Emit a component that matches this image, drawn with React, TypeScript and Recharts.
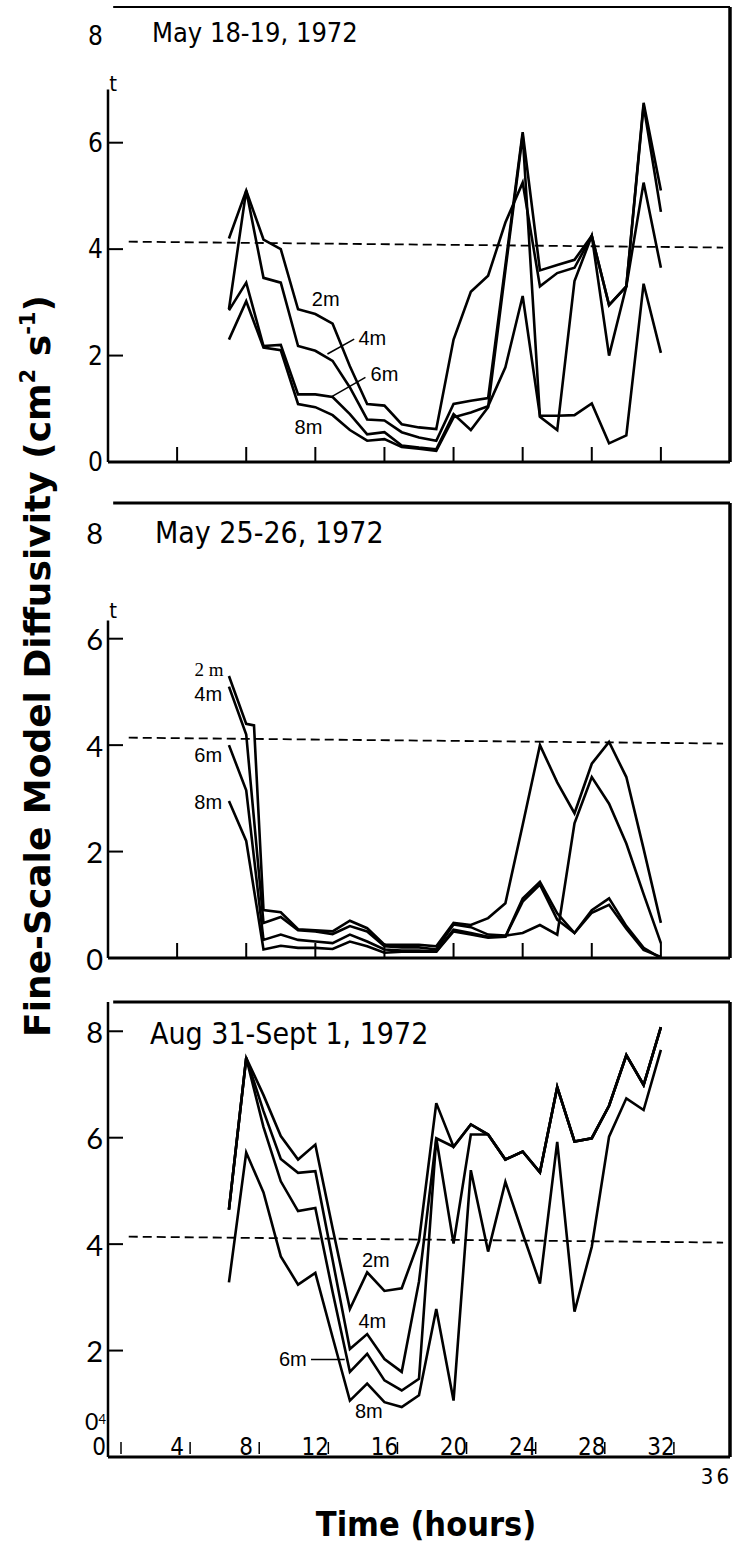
import React from "react";
import { LineChart, Line, XAxis, YAxis, ReferenceLine, ReferenceDot } from "recharts";

// ---- May 18-19, 1972 ----
const hoursMay18 = [7, 8, 9, 10, 11, 12, 13, 14, 15, 16, 17, 18, 19, 20, 21, 22, 23, 24, 25, 26, 27, 28, 29, 30, 31, 32];
const may18At2m = [4.2, 5.1, 4.18, 4.0, 2.87, 2.78, 2.6, 1.8, 1.09, 1.06, 0.71, 0.65, 0.62, 2.3, 3.2, 3.5, 4.5, 5.25, 3.3, 3.55, 3.65, 4.25, 2.95, 3.3, 5.25, 3.65];
const may18At4m = [2.87, 5.1, 3.46, 3.37, 2.18, 2.09, 1.9, 1.4, 0.8, 0.78, 0.56, 0.46, 0.4, 1.09, 1.15, 1.2, 3.7, 6.2, 3.6, 3.7, 3.8, 4.25, 2.95, 3.3, 6.75, 5.1];
const may18At6m = [2.85, 3.37, 2.18, 2.2, 1.27, 1.27, 1.22, 0.9, 0.52, 0.56, 0.31, 0.27, 0.24, 0.9, 0.6, 1.03, 3.6, 6.15, 0.85, 0.6, 3.4, 4.25, 2.0, 3.3, 6.7, 4.7];
const may18At8m = [2.3, 3.02, 2.15, 2.1, 1.09, 1.03, 0.88, 0.6, 0.4, 0.43, 0.28, 0.25, 0.21, 0.84, 0.93, 1.05, 1.78, 3.12, 0.87, 0.87, 0.88, 1.1, 0.35, 0.5, 3.35, 2.05];

// ---- May 25-26, 1972 ----
const hoursMay25 = [7, 8, 8.45, 9, 10, 11, 12, 13, 14, 15, 16, 17, 18, 19, 20, 21, 22, 23, 24, 25, 26, 27, 28, 29, 30, 31, 32];
const may25At2m = [5.3, 4.4, 4.37, 0.9, 0.86, 0.54, 0.52, 0.5, 0.7, 0.56, 0.25, 0.25, 0.25, 0.22, 0.66, 0.62, 0.75, 1.03, 2.5, 4.0, 3.3, 2.72, 3.65, 4.06, 3.4, 2.05, 0.66];
const may25At4m = [5.1, 4.2, null, 0.66, 0.77, 0.52, 0.5, 0.45, 0.6, 0.5, 0.22, 0.2, 0.2, 0.16, 0.63, 0.58, 0.44, 0.42, 0.47, 0.62, 0.44, 2.53, 3.4, 2.9, 2.15, 1.2, 0.28];
const may25At6m = [4.0, 3.15, null, 0.34, 0.44, 0.34, 0.31, 0.28, 0.44, 0.31, 0.16, 0.14, 0.14, 0.12, 0.53, 0.47, 0.4, 0.4, 1.12, 1.43, 0.84, 0.47, 0.9, 1.12, 0.6, 0.19, 0];
const may25At8m = [2.95, 2.2, null, 0.16, 0.23, 0.19, 0.19, 0.17, 0.31, 0.22, 0.1, 0.12, 0.12, 0.12, 0.5, 0.44, 0.38, 0.4, 1.06, 1.38, 0.72, 0.47, 0.85, 1.0, 0.55, 0.15, 0.02];

// ---- Aug 31-Sept 1, 1972 ----
const hoursAug31 = [7, 8, 9, 10, 11, 12, 13, 14, 15, 16, 17, 18, 19, 20, 21, 22, 23, 24, 25, 26, 27, 28, 29, 30, 31, 32];
const aug31At2m = [4.65, 7.5, 6.8, 6.03, 5.59, 5.87, 4.3, 2.78, 3.47, 3.12, 3.17, 4.06, 6.65, 5.83, 6.25, 6.06, 5.59, 5.74, 5.35, 6.95, 5.93, 5.99, 6.6, 7.55, 6.99, 8.08];
const aug31At4m = [4.65, 7.5, 6.5, 5.6, 5.34, 5.37, 3.7, 2.03, 2.31, 1.84, 1.6, 3.3, 5.99, 5.83, 6.25, 6.06, 5.59, 5.74, 5.35, 6.95, 5.93, 5.99, 6.6, 7.55, 6.99, 8.08];
const aug31At6m = [4.65, 7.5, 6.2, 5.18, 4.62, 4.68, 3.1, 1.6, 1.94, 1.44, 1.25, 1.47, 5.99, 4.01, 6.06, 6.06, 5.59, 5.74, 5.35, 6.95, 5.93, 5.99, 6.6, 7.55, 6.99, 8.08];
const aug31At8m = [3.28, 5.72, 4.97, 3.77, 3.24, 3.46, 2.25, 1.06, 1.38, 1.03, 0.94, 1.16, 2.78, 1.06, 5.39, 3.86, 5.17, 4.2, 3.26, 5.92, 2.73, 3.95, 6.02, 6.74, 6.52, 7.65];

// axes
const yTicks = [0, 2, 4, 6, 8];
const xTicks = [4, 8, 12, 16, 20, 24, 28, 32];
const xTicksLabelled = [0, 4, 8, 12, 16, 20, 24, 28, 32, 36];
const threshold = [4.14, 4.03]; // dashed line, left and right end

// annotations (data coordinates)
const may18Labels = [
  { x: 12.6, y: 3.06, text: "2m" },
  { x: 15.3, y: 2.34, text: "4m" },
  { x: 16.0, y: 1.66, text: "6m" },
  { x: 11.6, y: 0.66, text: "8m" },
];
const may18Pointers = [
  [12.7, 2.03, 14.25, 2.31],
  [12.9, 1.22, 14.9, 1.59],
];
const may25Labels = [
  { x: 5.85, y: 5.43, text: "2 m", serif: true },
  { x: 5.8, y: 4.97, text: "4m" },
  { x: 5.8, y: 3.81, text: "6m" },
  { x: 5.8, y: 2.93, text: "8m" },
];
const aug31Labels = [
  { x: 15.5, y: 3.7, text: "2m" },
  { x: 15.3, y: 2.56, text: "4m" },
  { x: 10.7, y: 1.84, text: "6m" },
  { x: 15.1, y: 0.87, text: "8m" },
];
const aug31Pointers = [[11.75, 1.83, 13.7, 1.83]];

const NARROW = "'Liberation Sans Narrow', 'DejaVu Sans Condensed', sans-serif";
const ROUND = "Lato, 'DejaVu Sans', sans-serif";
const PLAIN = "'Liberation Sans', Arial, sans-serif";
const Y_TOP = 8.55;
const X_END = 36;
const LINE_W = 2.6;

function buildRows(hours: number[], a: any[], b: any[], c: any[], d: any[]) {
  return hours.map((h, i) => ({ h, m2: a[i], m4: b[i], m6: c[i], m8: d[i] }));
}

const may18Rows = buildRows(hoursMay18, may18At2m, may18At4m, may18At6m, may18At8m);
const may25Rows = buildRows(hoursMay25, may25At2m, may25At4m, may25At6m, may25At8m);
const aug31Rows = buildRows(hoursAug31, aug31At2m, aug31At4m, aug31At6m, aug31At8m);

function makeYTick(marks: number[], font: string, size: number, raisedZero: boolean) {
  return (props: any) => {
    const { x, y, payload } = props;
    const v = payload.value;
    if (raisedZero && v === 0) {
      return (
        <text x={x - 2} y={y - 27} textAnchor="end" fontFamily={font} fontSize={size - 6}>
          0<tspan fontSize={13} dy={-6}>4</tspan>
        </text>
      );
    }
    return (
      <g>
        {marks.includes(v) && <line x1={x} y1={y} x2={x + 15} y2={y} stroke="#000" strokeWidth={2} />}
        <text x={x - 5} y={y} textAnchor="end" dominantBaseline="central" fontFamily={font} fontSize={size}>
          {v}
        </text>
      </g>
    );
  };
}

const TickUp = (props: any) => (
  <line x1={props.x} y1={props.y} x2={props.x} y2={props.y - 15} stroke="#000" strokeWidth={2} />
);

const TickLabelled = (props: any) => {
  const { x, y, payload } = props;
  const v = payload.value;
  if (v === 36) {
    return (
      <text x={x + 2} y={y + 27} textAnchor="end" fontFamily={NARROW} fontSize={22} letterSpacing={3}>
        36
      </text>
    );
  }
  const lx = v === 0 ? x - 9 : x;
  return (
    <g>
      <text x={lx} y={y - 2} textAnchor="middle" fontFamily={NARROW} fontSize={24}>
        {v}
      </text>
      <line x1={x + 13} y1={y - 3} x2={x + 13} y2={y - 15} stroke="#000" strokeWidth={1.5} />
    </g>
  );
};

interface PanelProps {
  rows: any[];
  top: number;
  labels: { x: number; y: number; text: string; serif?: boolean }[];
  pointers: number[][];
  leftAxisTop: number;
  tMark: number | null;
  bottom: boolean;
  yFont: string;
  ySize: number;
  frameWidth: number;
}

function Panel({ rows, top, labels, pointers, leftAxisTop, tMark, bottom, yFont, ySize, frameWidth }: PanelProps) {
  const yMarks = bottom ? [2, 4, 6, 8] : [2, 4, 6];
  const axisH = bottom ? 48 : 28;
  return (
    <div style={{ position: "absolute", left: 0, top }}>
      <LineChart width={745} height={462 + axisH} data={rows} margin={{ top: 7, right: 15, bottom: 0, left: 0 }}>
        <XAxis
          type="number"
          dataKey="h"
          domain={[0, X_END]}
          ticks={bottom ? xTicksLabelled : xTicks}
          height={axisH}
          allowDataOverflow
          interval={0}
          axisLine={{ stroke: "#000", strokeWidth: 3 }}
          tickLine={false}
          tickSize={0}
          tickMargin={0}
          tick={bottom ? <TickLabelled /> : <TickUp />}
        />
        <YAxis
          type="number"
          domain={[0, Y_TOP]}
          ticks={yTicks}
          width={108}
          allowDataOverflow
          interval={0}
          axisLine={false}
          tickLine={false}
          tickSize={0}
          tickMargin={0}
          tick={makeYTick(yMarks, yFont, ySize, bottom)}
        />
        {/* frame: top edge and right edge */}
        <ReferenceLine
          segment={[{ x: 0.3, y: Y_TOP }, { x: X_END, y: Y_TOP }]}
          stroke="#000"
          strokeWidth={frameWidth}
          ifOverflow="visible"
        />
        <ReferenceLine
          segment={[{ x: X_END, y: 0 }, { x: X_END, y: Y_TOP }]}
          stroke="#000"
          strokeWidth={3.5}
          ifOverflow="visible"
        />
        <ReferenceLine
          segment={[{ x: 0, y: 0 }, { x: 0, y: leftAxisTop }]}
          stroke="#000"
          strokeWidth={2.5}
          ifOverflow="visible"
        />
        <ReferenceLine
          segment={[{ x: 1.2, y: threshold[0] }, { x: 35.6, y: threshold[1] }]}
          stroke="#000"
          strokeWidth={1.8}
          strokeDasharray="9 5"
        />
        {pointers.map((p, i) => (
          <ReferenceLine
            key={"p" + i}
            segment={[{ x: p[0], y: p[1] }, { x: p[2], y: p[3] }]}
            stroke="#000"
            strokeWidth={1.5}
          />
        ))}
        {tMark !== null && (
          <ReferenceDot
            x={0.3}
            y={tMark}
            r={0}
            fill="none"
            stroke="none"
            label={{ value: "t", position: "center", fontSize: 22, fill: "#000", fontFamily: NARROW }}
          />
        )}
        {labels.map((l) => (
          <ReferenceDot
            key={l.text}
            x={l.x}
            y={l.y}
            r={0}
            fill="none"
            stroke="none"
            label={{
              value: l.text,
              position: "center",
              fontSize: l.serif ? 19 : 20,
              fill: "#000",
              fontFamily: l.serif ? "'Liberation Serif', 'DejaVu Serif', serif" : PLAIN,
            }}
          />
        ))}
        <Line type="linear" dataKey="m2" stroke="#000" strokeWidth={LINE_W} dot={false} connectNulls isAnimationActive={false} />
        <Line type="linear" dataKey="m4" stroke="#000" strokeWidth={LINE_W} dot={false} connectNulls isAnimationActive={false} />
        <Line type="linear" dataKey="m6" stroke="#000" strokeWidth={LINE_W} dot={false} connectNulls isAnimationActive={false} />
        <Line type="linear" dataKey="m8" stroke="#000" strokeWidth={LINE_W} dot={false} connectNulls isAnimationActive={false} />
      </LineChart>
    </div>
  );
}

export default function App() {
  return (
    <div style={{ position: "absolute", left: 0, top: 0, width: 745, height: 1545, background: "#fff" }}>
      <Panel
        rows={may18Rows}
        top={0}
        labels={may18Labels}
        pointers={may18Pointers}
        leftAxisTop={7.0}
        tMark={7.12}
        bottom={false}
        yFont={NARROW}
        ySize={26}
        frameWidth={2}
      />
      <Panel
        rows={may25Rows}
        top={496}
        labels={may25Labels}
        pointers={[]}
        leftAxisTop={6.34}
        tMark={6.53}
        bottom={false}
        yFont={ROUND}
        ySize={29}
        frameWidth={3}
      />
      <Panel
        rows={aug31Rows}
        top={995}
        labels={aug31Labels}
        pointers={aug31Pointers}
        leftAxisTop={Y_TOP}
        tMark={null}
        bottom={true}
        yFont={ROUND}
        ySize={29}
        frameWidth={3}
      />
      <svg width={745} height={1545} style={{ position: "absolute", left: 0, top: 0, pointerEvents: "none" }}>
        <text x={152} y={42} fontFamily={NARROW} fontSize={27}>May 18-19, 1972</text>
        <text x={155} y={543} fontFamily={NARROW} fontSize={30}>May 25-26, 1972</text>
        <text x={150} y={1044} fontFamily={NARROW} fontSize={30}>Aug 31-Sept 1, 1972</text>
        <text
          transform="translate(50,666) rotate(-90)"
          textAnchor="middle"
          fontFamily="'DejaVu Sans', sans-serif"
          fontSize={36}
          fontWeight="bold"
        >
          Fine-Scale Model Diffusivity (cm
          <tspan fontSize={21} dy={-15}>2</tspan>
          <tspan dy={15}> s</tspan>
          <tspan fontSize={21} dy={-15}>-1</tspan>
          <tspan dy={15}>)</tspan>
        </text>
        <text x={426} y={1536} textAnchor="middle" fontFamily={NARROW} fontSize={34} fontWeight="bold">
          Time (hours)
        </text>
      </svg>
    </div>
  );
}
